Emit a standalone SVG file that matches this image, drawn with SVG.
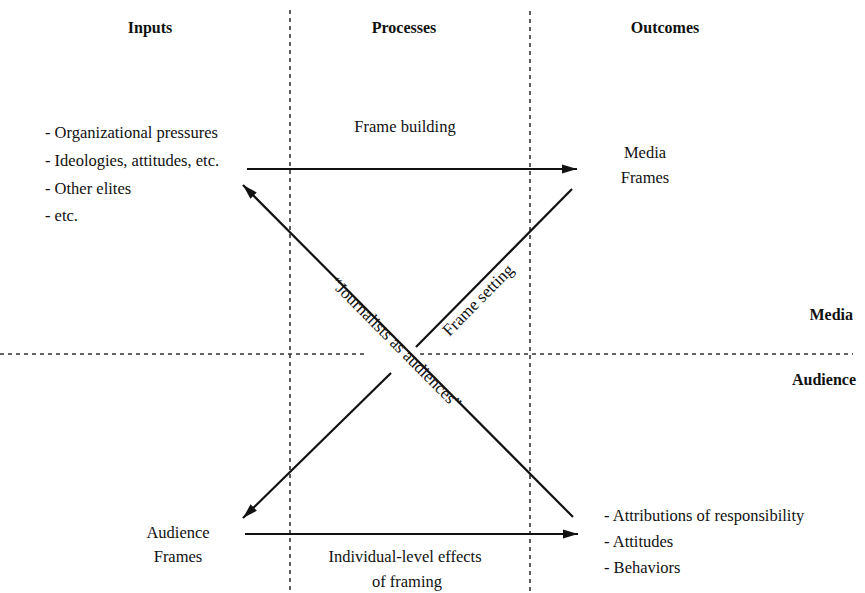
<svg xmlns="http://www.w3.org/2000/svg" width="865" height="593" viewBox="0 0 865 593">
<defs>
<marker id="ah" markerWidth="16" markerHeight="10" refX="15" refY="5" orient="auto" markerUnits="userSpaceOnUse">
<path d="M0,0.5 L15,5 L0,9.5 Z" fill="#111"/>
</marker>
<style>
text{font-family:"Liberation Serif","Times New Roman",serif;fill:#111;font-size:16.5px}
.hd{font-weight:bold;font-size:16px}
.c{text-anchor:middle}
.r{text-anchor:end}
.diag{font-size:17px}
.grid{stroke:#333;stroke-width:1.6;stroke-dasharray:4 4;fill:none}
.conn{stroke:#111;stroke-width:2.2;fill:none}
.arr{marker-end:url(#ah)}
</style>
</defs>
<rect width="865" height="593" fill="#fff"/>
<g id="grid">
<line class="grid" x1="290" y1="10" x2="290" y2="593"/>
<line class="grid" x1="530" y1="11" x2="530" y2="593"/>
<line class="grid" x1="0" y1="354" x2="368" y2="354"/>
<line class="grid" x1="420" y1="354" x2="853" y2="354"/>
</g>
<g id="headers">
<text class="hd c" x="150" y="33">Inputs</text>
<text class="hd c" x="404" y="33">Processes</text>
<text class="hd c" x="665" y="33">Outcomes</text>
<text class="hd r" x="853" y="320">Media</text>
<text class="hd r" x="856" y="385">Audience</text>
</g>
<g id="inputs">
<text x="45" y="138">- Organizational pressures</text>
<text x="45" y="166">- Ideologies, attitudes, etc.</text>
<text x="45" y="194">- Other elites</text>
<text x="45" y="221">- etc.</text>
</g>
<g id="media-frames">
<text class="c" x="645" y="158">Media</text>
<text class="c" x="645" y="183">Frames</text>
</g>
<g id="audience-frames">
<text class="c" x="178" y="538">Audience</text>
<text class="c" x="178" y="562">Frames</text>
</g>
<g id="outcomes">
<text x="604" y="521">- Attributions of responsibility</text>
<text x="604" y="547">- Attitudes</text>
<text x="604" y="573">- Behaviors</text>
</g>
<g id="connectors">
<line class="conn arr" x1="247" y1="169" x2="577" y2="169"/>
<line class="conn arr" x1="245" y1="534" x2="578" y2="534"/>
<line class="conn arr" x1="573" y1="517" x2="243" y2="185"/>
<line class="conn" x1="572" y1="189" x2="416" y2="347"/>
<line class="conn arr" x1="391" y1="373" x2="243" y2="518"/>
<text class="c" x="405" y="132">Frame building</text>
<text class="c" x="405" y="562">Individual-level effects</text>
<text class="c" x="407" y="587">of framing</text>
<text class="c diag" transform="translate(392,347) rotate(45.2)">“Journalists as audiences”</text>
<text class="c diag" transform="translate(482,304) rotate(-45.4)">Frame setting</text>
</g>
</svg>
